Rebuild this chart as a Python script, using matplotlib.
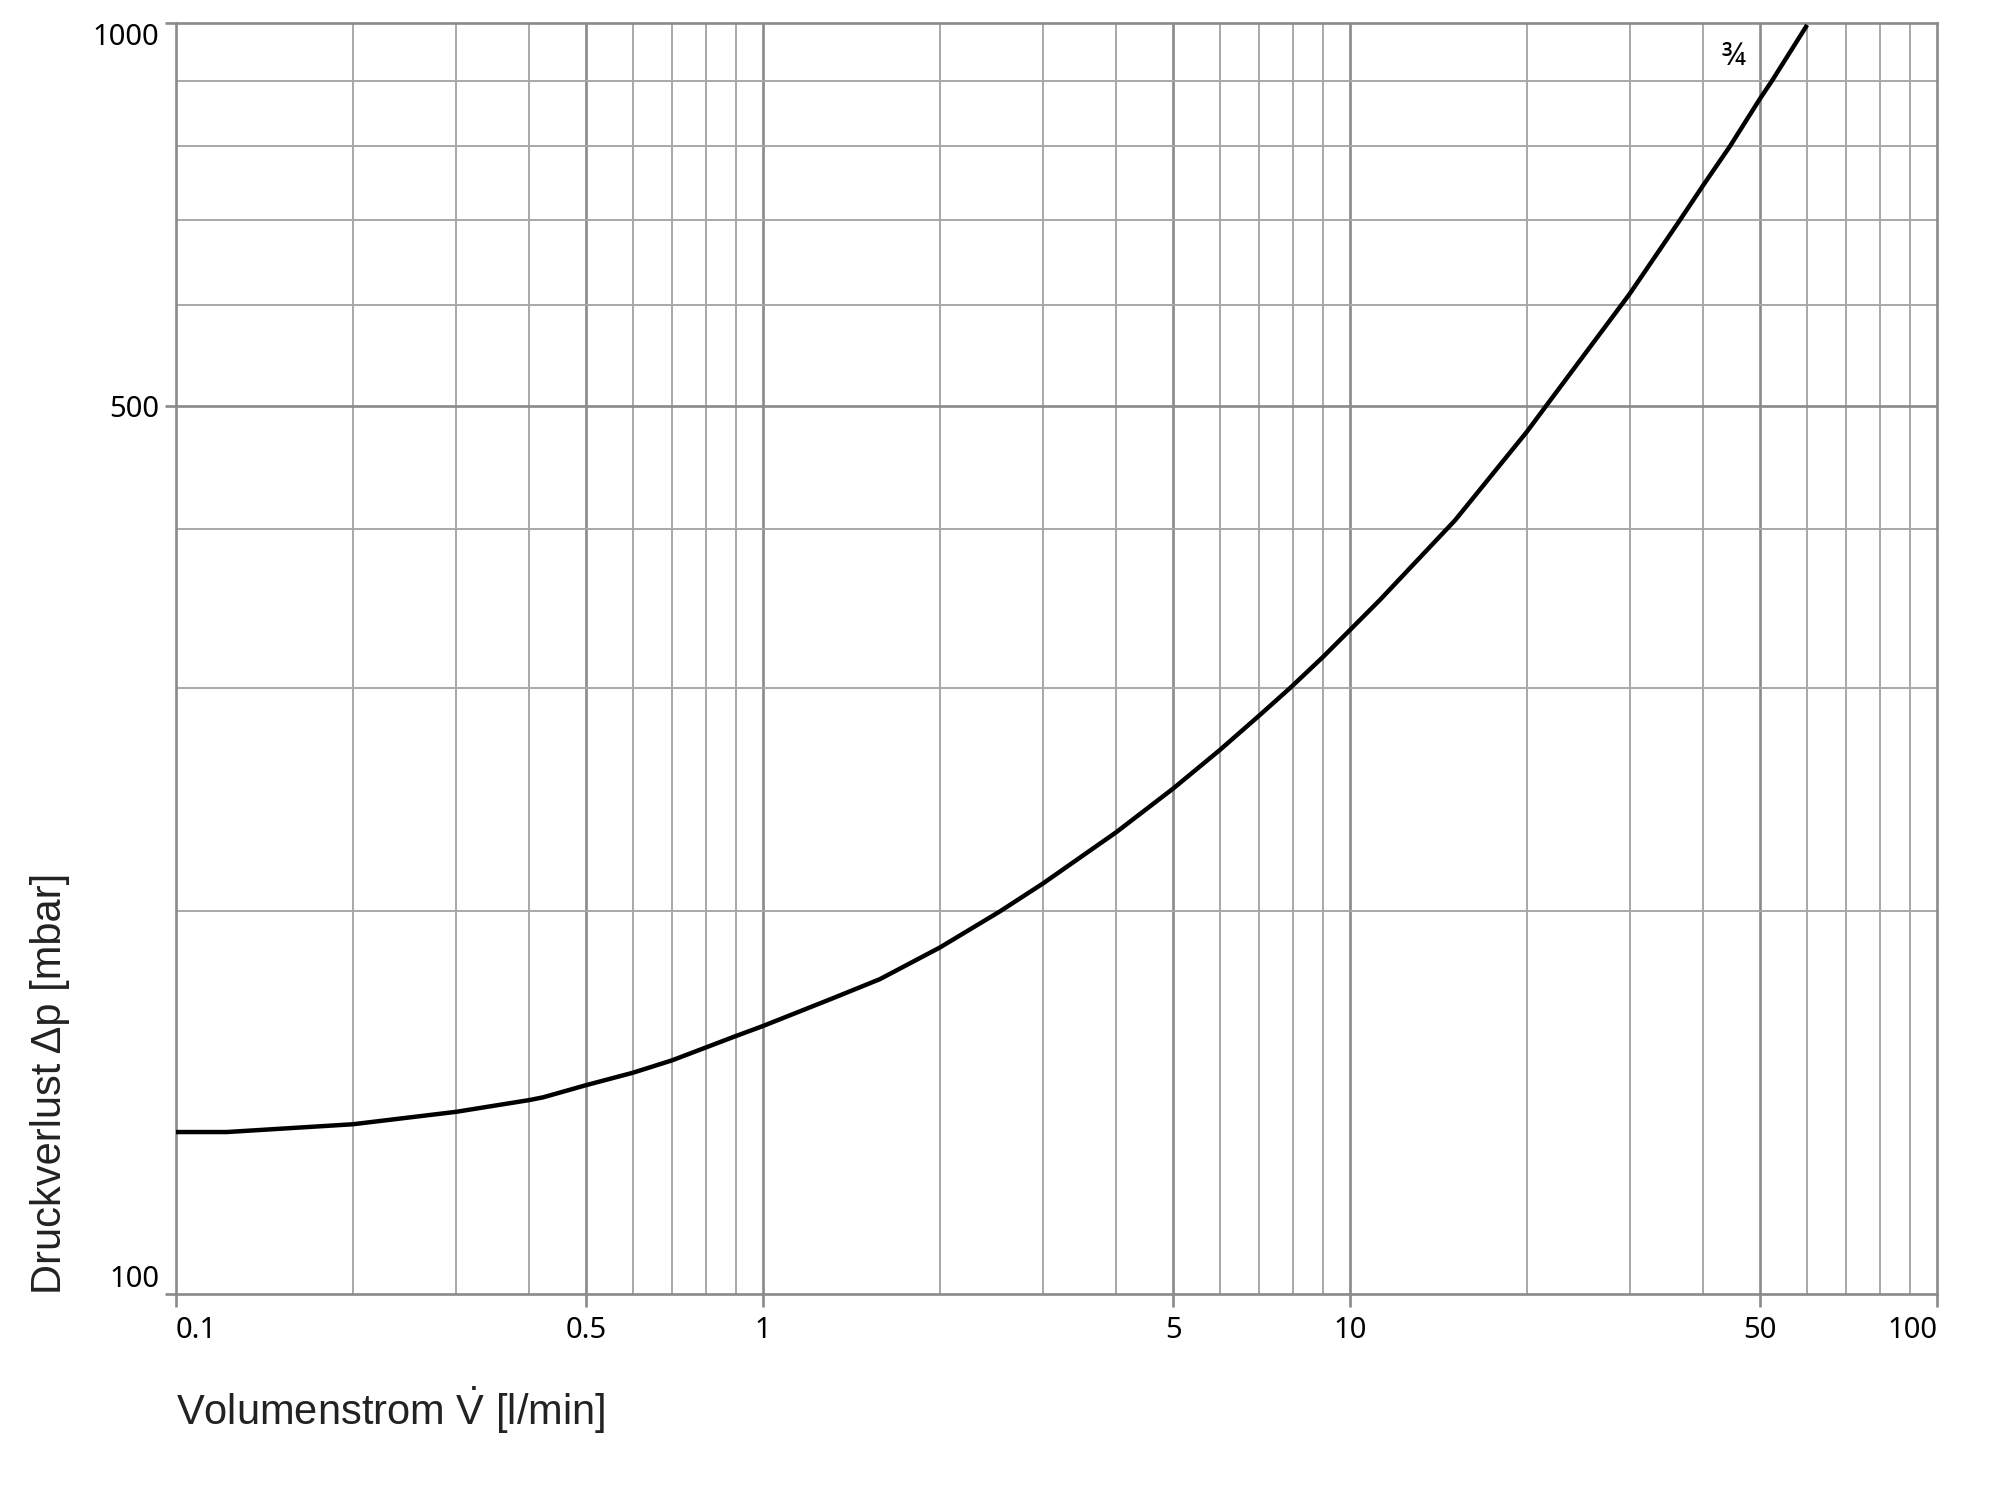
import matplotlib
matplotlib.use('Agg')
import matplotlib.pyplot as plt

# flow rate [l/min] and pressure loss [mbar]
flow = [0.1, 0.122, 0.2, 0.3, 0.4, 0.422, 0.5, 0.6, 0.7, 0.9, 1.0, 1.316,
        1.582, 2.0, 2.533, 3.0, 4.0, 5.0, 6.0, 7.0, 7.92, 9.0, 10.0, 11.25,
        15.1, 20.0, 21.6, 29.0, 30.0, 36.5, 40.0, 44.4, 50.0, 52.3, 59.8]
dp = [134.1, 134.1, 136.0, 139.1, 142.1, 142.8, 146.0, 149.3, 152.7, 159.6,
      162.5, 170.9, 176.9, 187.3, 200.0, 210.4, 230.9, 249.9, 267.9, 285.1,
      300.0, 317.2, 333.0, 351.7, 406.2, 476.7, 500.0, 600.0, 612.8, 700.0,
      745.7, 800.0, 872.6, 900.0, 993.0]
curve_label = '¾'

x_major = [0.1, 0.5, 1, 5, 10, 50, 100]
x_major_labels = ['0.1', '0.5', '1', '5', '10', '50', '100']
x_minor = [0.2, 0.3, 0.4, 0.6, 0.7, 0.8, 0.9, 2, 3, 4, 6, 7, 8, 9,
           20, 30, 40, 60, 70, 80, 90]
y_major = [100, 500, 1000]
y_minor = [200, 300, 400, 600, 700, 800, 900]

tick_font = ['Noto Sans', 'DejaVu Sans']
label_font = ['Liberation Sans', 'DejaVu Sans']
grid_light = '#a8a8a8'
grid_dark = '#8a8a8a'

plt.rcParams['mathtext.fontset'] = 'custom'
plt.rcParams['mathtext.rm'] = 'Liberation Sans'
plt.rcParams['mathtext.it'] = 'Liberation Sans:italic'

fig = plt.figure(figsize=(20.04, 15.08), dpi=100)
ax = fig.add_axes([176 / 2004, 1 - 1294 / 1508, (1937 - 176) / 2004, (1294 - 23) / 1508])
ax.set_xscale('log')
ax.set_yscale('log')
ax.set_xlim(0.1, 100)
ax.set_ylim(100, 1000)

# grid drawn by hand so that major/minor weights match
for xv in x_minor:
    ax.axvline(xv, color=grid_light, lw=1.4, zorder=1)
for xv in x_major[1:-1]:
    ax.axvline(xv, color=grid_dark, lw=1.9, zorder=1)
for yv in y_minor:
    ax.axhline(yv, color=grid_light, lw=1.4, zorder=1)
ax.axhline(500, color=grid_dark, lw=1.9, zorder=1)

ax.plot(flow, dp, color='black', lw=3.2, zorder=3)
ax.text(45, 940, curve_label, fontsize=22, family=tick_font,
        ha='center', va='center', zorder=4)

for s in ax.spines.values():
    s.set_color(grid_dark)
    s.set_linewidth(1.9)

ax.minorticks_off()
ax.set_xticks(x_major)
ax.set_xticklabels(x_major_labels)
ax.set_yticks(y_major)
ax.set_yticklabels([str(v) for v in y_major])
ax.tick_params(axis='x', length=9.5, width=1.9, color=grid_dark, pad=6,
               labelsize=21)
ax.tick_params(axis='y', length=8, width=1.9, color=grid_dark, pad=4,
               labelsize=21)
for lab in ax.get_xticklabels() + ax.get_yticklabels():
    lab.set_family(tick_font)
xl = ax.get_xticklabels()
xl[0].set_ha('left')
xl[-1].set_ha('right')
yl = ax.get_yticklabels()
yl[0].set_va('bottom')
yl[-1].set_va('top')

fig.text(176 / 2004, 1 - 1410 / 1508, r'Volumenstrom $\dot{\mathrm{V}}$ [l/min]',
         fontsize=30, family=label_font, color='#222222',
         ha='left', va='center')
fig.text(50 / 2004, 1 - 1294 / 1508, 'Druckverlust \u0394p [mbar]',
         fontsize=30, family=label_font, color='#222222',
         rotation=90, ha='center', va='bottom')

fig.savefig('out.png', dpi=100)
